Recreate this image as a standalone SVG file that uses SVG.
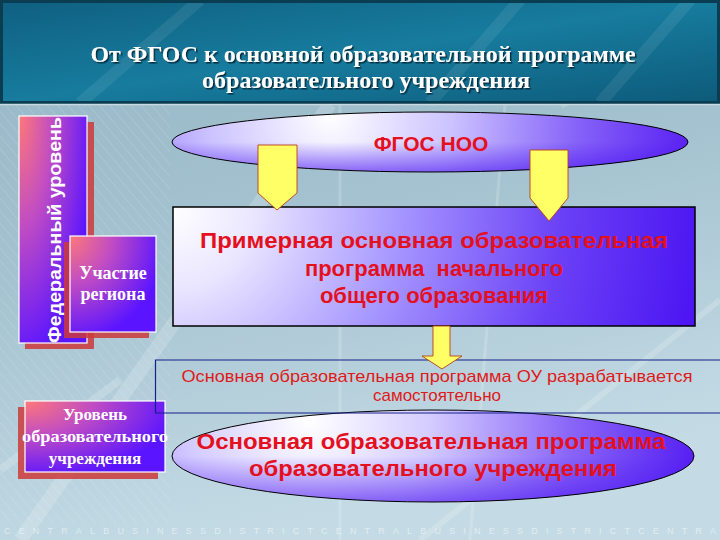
<svg xmlns="http://www.w3.org/2000/svg" width="720" height="540" viewBox="0 0 720 540">
<defs>
<style>
.title{font-family:"Liberation Serif","Times New Roman",serif;font-weight:bold;font-size:23px;fill:#ffffff}
.lbl{font-family:"Liberation Serif","Times New Roman",serif;font-weight:bold;fill:#ffffff;text-anchor:middle}
.vert{font-family:"Liberation Sans",Arial,sans-serif;font-weight:bold;font-size:18px;fill:#ffffff;text-anchor:middle}
.red{font-family:"Liberation Sans",Arial,sans-serif;font-weight:bold;fill:#e5101e;text-anchor:middle}
.note{font-family:"Liberation Sans",Arial,sans-serif;font-size:17px;fill:#e01a1a;text-anchor:middle}
.box{stroke:#ffffff;stroke-width:1.2}
.shadow{fill:#cc3a3a;opacity:0.85}
.arrow{fill:#ffff66;stroke:#b8401a;stroke-width:0.9}
.streak{stroke:#ffffff;stroke-opacity:0.18;fill:none}
</style>
<filter id="tshadow" x="-5%" y="-30%" width="110%" height="160%">
<feDropShadow dx="1.5" dy="1.5" stdDeviation="0.4" flood-color="#062434" flood-opacity="0.9"/>
</filter>
<linearGradient id="hdr" x1="0" y1="0" x2="1" y2="1">
<stop offset="0" stop-color="#0f5f80"/>
<stop offset="0.5" stop-color="#177c9e"/>
<stop offset="1" stop-color="#0d5a7a"/>
</linearGradient>
<linearGradient id="bg" x1="0" y1="0" x2="0.3" y2="1">
<stop offset="0" stop-color="#95b6c6"/>
<stop offset="0.5" stop-color="#a5c3d0"/>
<stop offset="1" stop-color="#c4dbe5"/>
</linearGradient>
<radialGradient id="pinkbox" cx="0" cy="0" r="1.1">
<stop offset="0" stop-color="#ff7878"/>
<stop offset="0.45" stop-color="#c04cc4"/>
<stop offset="1" stop-color="#5a14ff"/>
</radialGradient>
<radialGradient id="rectg" gradientUnits="userSpaceOnUse" cx="173" cy="207" r="540">
<stop offset="0" stop-color="#ffffff"/>
<stop offset="0.15" stop-color="#eae6ff"/>
<stop offset="0.42" stop-color="#a696ff"/>
<stop offset="0.72" stop-color="#6a40f6"/>
<stop offset="1" stop-color="#4a12f2"/>
</radialGradient>
<radialGradient id="ell1" gradientUnits="userSpaceOnUse" cx="330" cy="115" r="370">
<stop offset="0" stop-color="#ffffff"/>
<stop offset="0.33" stop-color="#cbc2ff"/>
<stop offset="0.68" stop-color="#8460f8"/>
<stop offset="1" stop-color="#561cf2"/>
</radialGradient>
<radialGradient id="ell2" gradientUnits="userSpaceOnUse" cx="310" cy="420" r="400">
<stop offset="0" stop-color="#ffffff"/>
<stop offset="0.3" stop-color="#d4ccff"/>
<stop offset="0.65" stop-color="#8a66f8"/>
<stop offset="1" stop-color="#5018f2"/>
</radialGradient>
<linearGradient id="shade" x1="0" y1="0" x2="0" y2="1">
<stop offset="0" stop-color="#4a14f0" stop-opacity="0"/>
<stop offset="0.5" stop-color="#4a14f0" stop-opacity="0"/>
<stop offset="1" stop-color="#4a14f0" stop-opacity="0.6"/>
</linearGradient>
<pattern id="hatch" width="8" height="8" patternUnits="userSpaceOnUse" patternTransform="rotate(-40)">
<line x1="0" y1="0" x2="0" y2="8" stroke="#ffffff" stroke-opacity="0.22" stroke-width="1"/>
</pattern>
</defs>

<g id="background">
<rect x="0" y="0" width="720" height="540" fill="url(#bg)"/>
<rect x="0" y="104" width="170" height="420" fill="url(#hatch)"/>
<path class="streak" stroke-width="14" d="M20,540 L330,104"/>
<path class="streak" stroke-width="6" d="M420,540 L720,300"/>
<path class="streak" stroke-width="10" d="M560,104 L720,20"/>
<path class="streak" stroke-width="3" d="M340,104 V540"/>
<path class="streak" stroke-width="3" d="M505,104 L470,540"/>
<path class="streak" stroke-width="8" d="M0,470 L120,380"/>
<rect x="0" y="0" width="720" height="103" fill="url(#hdr)"/>
<path d="M80,103 L200,0 M430,103 L520,0 M600,103 L690,0" stroke="#ffffff" stroke-opacity="0.08" stroke-width="12"/>
<rect x="1.5" y="1.5" width="717" height="101" fill="none" stroke="#0a3c52" stroke-width="3"/>
<line x1="0" y1="104.5" x2="720" y2="104.5" stroke="#c8dbe3" stroke-width="1.5"/>
</g>

<g id="title" filter="url(#tshadow)">
<text class="title" x="363" y="62" text-anchor="middle" textLength="545" lengthAdjust="spacingAndGlyphs">От ФГОС к основной образовательной программе</text>
<text class="title" x="366" y="88" text-anchor="middle" textLength="328" lengthAdjust="spacingAndGlyphs">образовательного учреждения</text>
</g>

<g id="node-federal">
<rect class="shadow" x="25" y="122" width="69" height="227"/>
<rect class="box" x="19" y="116" width="68" height="227" fill="url(#pinkbox)"/>
<text class="vert" transform="translate(61,230) rotate(-90)" x="0" y="0" textLength="226" lengthAdjust="spacingAndGlyphs">Федеральный уровень</text>
</g>

<g id="node-region">
<rect class="shadow" x="64" y="242" width="85" height="96"/>
<rect class="box" x="70" y="236" width="86" height="96" fill="url(#pinkbox)"/>
<text class="lbl" x="113" y="279" font-size="18">Участие</text>
<text class="lbl" x="113" y="300" font-size="18">региона</text>
</g>

<g id="node-school">
<rect class="shadow" x="18" y="407" width="140" height="72"/>
<rect class="box" x="25" y="401" width="140" height="71" fill="url(#pinkbox)"/>
<text class="lbl" x="95" y="420" font-size="17">Уровень</text>
<text class="lbl" x="95" y="442" font-size="17" textLength="146" lengthAdjust="spacingAndGlyphs">образовательного</text>
<text class="lbl" x="95" y="464" font-size="17">учреждения</text>
</g>

<g id="node-fgos">
<ellipse cx="430" cy="142" rx="258" ry="30" fill="url(#ell1)"/>
<ellipse cx="430" cy="142" rx="258" ry="30" fill="url(#shade)" stroke="#000000" stroke-width="1"/>
<text class="red" x="431" y="151" font-size="21">ФГОС НОО</text>
</g>

<g id="node-primer">
<rect x="173" y="207" width="522" height="119" fill="url(#rectg)" stroke="#000000" stroke-width="1.5"/>
<text class="red" x="434" y="248" font-size="22" textLength="468" lengthAdjust="spacingAndGlyphs">Примерная основная образовательная</text>
<text class="red" x="434" y="276" font-size="22" xml:space="preserve">программа  начального</text>
<text class="red" x="434" y="303" font-size="22">общего образования</text>
</g>

<g id="node-oop">
<ellipse cx="433" cy="456" rx="261" ry="46" fill="url(#ell2)"/>
<ellipse cx="433" cy="456" rx="261" ry="46" fill="url(#shade)" stroke="#000000" stroke-width="1"/>
<text class="red" x="431" y="449" font-size="22" textLength="469" lengthAdjust="spacingAndGlyphs">Основная образовательная программа</text>
<text class="red" x="433" y="476" font-size="22" textLength="368" lengthAdjust="spacingAndGlyphs">образовательного учреждения</text>
</g>

<g id="node-note">
<path d="M720,360 H155.5 V413 H720" fill="none" stroke="#14208a" stroke-width="1.2"/>
<text class="note" x="437" y="382" textLength="511" lengthAdjust="spacingAndGlyphs">Основная образовательная программа ОУ разрабатывается</text>
<text class="note" x="437" y="401">самостоятельно</text>
</g>

<g id="connectors">
<path class="arrow" d="M258,145 H297 V193 L277,210 L258,193 Z"/>
<path class="arrow" d="M530,150 H568 V198 L549,221 L530,198 Z"/>
<path class="arrow" d="M433,326 H450 V356 H462 L442,369 L422,356 H433 Z"/>
</g>

<text x="4" y="534" font-family="'Liberation Sans',Arial,sans-serif" font-size="9" fill="#ffffff" fill-opacity="0.5" textLength="712" lengthAdjust="spacing">CENTRALBUSINESSDISTRICTCENTRALBUSINESSDISTRICTCENTRA</text>
</svg>
